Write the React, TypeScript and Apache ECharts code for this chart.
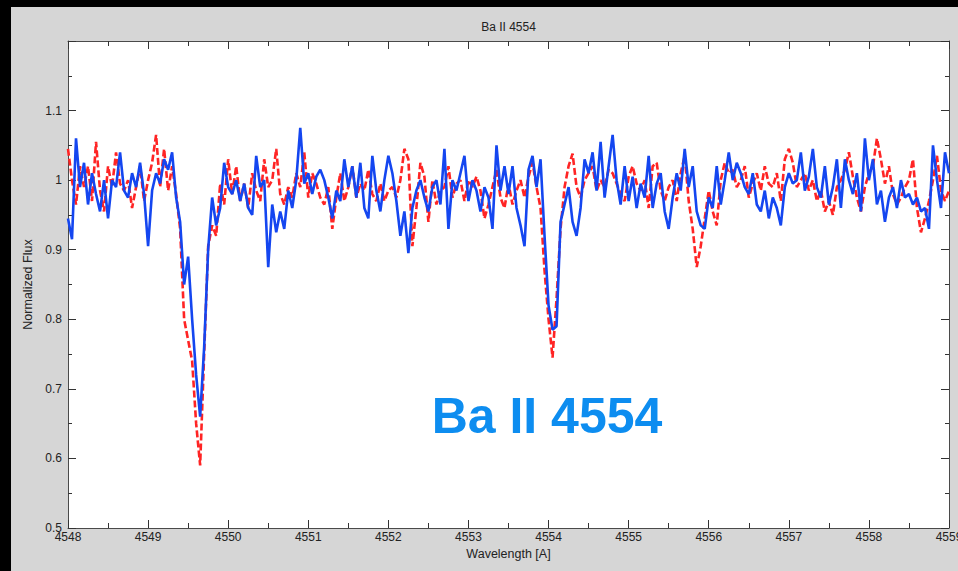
import React, { useEffect, useRef } from "react";
import * as echarts from "echarts";

// Sampling grid of the spectra (Angstrom)
const START_WL = 4548;
const STEP_WL = 0.05;

// Normalized flux, solid blue spectrum
const BLUE_FLUX = [
  0.945, 0.915, 1.06, 0.99, 1.025, 0.965, 1.01, 0.98, 0.955, 1.0,
  0.945, 1.0, 0.99, 1.04, 0.985, 0.975, 1.01, 0.99, 1.025, 0.98,
  0.905, 0.985, 1.01, 0.995, 1.03, 1.015, 1.04, 0.975, 0.94, 0.85,
  0.89, 0.8, 0.72, 0.66, 0.76, 0.9, 0.975, 0.935, 0.96, 1.025,
  0.99, 0.98, 1.0, 0.97, 0.995, 0.96, 0.95, 1.035, 0.99, 1.0,
  0.875, 0.965, 0.925, 0.955, 0.93, 0.985, 0.96, 1.0, 1.075, 0.995,
  1.01, 0.98, 1.005, 1.015, 1.0, 0.975, 0.945, 0.985, 0.97, 1.03,
  0.99, 1.02, 0.975, 1.025, 0.96, 0.945, 1.035, 0.985, 0.955, 1.0,
  1.035, 1.01, 0.97, 0.92, 0.955, 0.895, 0.96, 0.985, 1.0, 0.975,
  0.955, 0.99, 1.0, 0.965, 1.045, 0.93, 1.0, 0.985, 1.01, 1.035,
  0.97, 1.0, 0.985, 0.955, 0.99, 0.975, 0.93, 1.05, 0.985, 1.02,
  0.98, 1.02, 0.96, 0.935, 0.905, 1.015, 1.035, 0.99, 1.03, 0.92,
  0.82, 0.785, 0.79, 0.94, 0.965, 0.99, 0.94, 0.92, 0.96, 1.03,
  1.01, 1.04, 0.985, 1.055, 0.975, 1.02, 1.065, 1.0, 0.965, 1.02,
  0.97, 1.005, 0.96, 0.995, 0.975, 1.035, 0.96, 0.995, 1.01, 0.955,
  0.93, 0.975, 1.01, 0.985, 1.045, 0.99, 1.02, 0.955, 0.935, 0.93,
  0.975, 0.96, 1.02, 0.965, 1.0, 1.04, 1.0, 1.025, 1.01, 0.99,
  0.98, 1.01, 0.965, 0.955, 0.985, 0.945, 0.975, 0.96, 0.935, 0.99,
  1.01, 0.995, 1.0, 1.04, 0.985, 1.005, 1.045, 0.99, 0.975, 1.02,
  0.965, 0.99, 1.03, 0.96, 1.03, 1.0, 0.98, 1.01, 0.955, 1.06,
  1.0, 1.03, 0.965, 0.985, 0.94, 0.975, 0.99, 0.96, 1.0, 0.975,
  0.98, 0.965, 0.975, 0.955, 0.96, 0.93, 1.05, 1.0, 0.96, 1.04, 1.01,
];

// Normalized flux, dashed red spectrum
const RED_FLUX = [
  1.045, 1.0, 0.965, 1.02, 0.99, 1.02, 0.97, 1.055, 0.985, 0.955,
  1.02, 0.99, 1.04, 0.995, 0.985, 1.0, 0.96, 0.99, 1.02, 0.97,
  1.0, 1.025, 1.065, 0.99, 1.045, 0.985, 1.02, 0.98, 0.93, 0.8,
  0.77, 0.74, 0.65, 0.59, 0.75, 0.905, 0.935, 0.92, 0.995, 0.965,
  1.03, 0.98, 1.02, 0.97, 0.995, 0.96, 1.01, 0.985, 0.97, 1.03,
  0.99, 1.0, 1.045, 0.98, 0.965, 0.99, 0.975, 1.01, 0.99, 1.04,
  0.975, 1.01, 0.995, 0.975, 0.965, 0.99, 0.93, 0.975, 1.01, 0.97,
  0.99, 1.02, 0.975, 0.995, 0.985, 1.015, 0.98, 0.97, 0.995, 0.97,
  0.985, 0.99, 0.975, 1.0, 1.045, 1.03, 0.905, 0.96, 1.025, 1.005,
  0.94, 1.0, 0.965, 0.985, 0.99, 1.02, 0.975, 0.995, 1.0, 0.97,
  1.0, 0.99, 1.005, 0.985, 0.945, 0.965, 0.99, 1.015, 0.975, 0.96,
  0.995, 0.965, 0.985, 1.0, 0.975, 1.005, 1.025, 0.99, 0.96, 0.87,
  0.8, 0.745, 0.83, 0.93, 0.99, 1.02, 1.038, 0.99, 0.975, 1.0,
  1.01, 1.02, 0.985, 1.0, 0.99, 1.015, 1.01, 0.995, 0.98, 0.97,
  1.005, 1.02, 0.995, 0.985, 1.0, 0.96, 1.02, 1.025, 0.985, 0.97,
  0.99, 1.0, 0.97, 1.01, 1.035, 0.97, 0.93, 0.875, 0.905, 0.945,
  0.985, 0.955, 0.935, 1.0, 1.025, 1.01, 1.015, 0.99, 1.0, 1.02,
  0.975, 0.995, 1.01, 0.985, 1.02, 0.995, 0.99, 1.01, 0.97, 1.03,
  1.045, 1.025, 0.99, 1.0, 1.01, 0.985, 1.0, 0.97, 0.985, 0.955,
  0.97, 0.95, 0.99, 1.0, 1.015, 1.04, 1.005, 0.975, 0.955, 0.99,
  1.01, 1.02, 1.06, 1.03, 0.995, 1.02, 0.98, 0.965, 0.975, 0.99,
  1.0, 1.03, 0.96, 0.925, 0.945, 0.97, 1.0, 1.035, 0.985, 0.97, 0.985,
];

const X_MIN = 4548;
const X_MAX = 4559;
const Y_MIN = 0.5;
const Y_MAX = 1.2;

const TITLE = "Ba II 4554";
const BIG_LABEL = "Ba II 4554";
const X_NAME = "Wavelength [A]";
const Y_NAME = "Normalized Flux";

const FONT = "'Liberation Sans', Arial, Helvetica, sans-serif";

function toPairs(vals: number[]) {
  return vals.map((v, i) => [+(START_WL + i * STEP_WL).toFixed(2), v]);
}

export default function App() {
  const ref = useRef<HTMLDivElement>(null);

  useEffect(() => {
    if (!ref.current) return;
    const chart = echarts.init(ref.current, null, { renderer: "svg" });

    const axisLine = { show: true, lineStyle: { color: "#4a4a4a", width: 1 } };
    const tickStyle = { color: "#333", width: 1 };

    const xBase = {
      type: "value",
      min: X_MIN,
      max: X_MAX,
      interval: 1,
      axisLine,
      axisTick: { show: true, inside: true, length: 8, lineStyle: tickStyle },
      minorTick: { show: true, splitNumber: 2, length: 5, lineStyle: tickStyle },
      splitLine: { show: false },
      minorSplitLine: { show: false },
    };
    const yBase = {
      type: "value",
      min: Y_MIN,
      max: Y_MAX,
      interval: 0.1,
      axisLine,
      axisTick: { show: true, inside: true, length: 8, lineStyle: tickStyle },
      minorTick: { show: true, splitNumber: 2, length: 4, lineStyle: tickStyle },
      splitLine: { show: false },
      minorSplitLine: { show: false },
    };

    chart.setOption({
      animation: false,
      backgroundColor: "#d6d6d6",
      grid: {
        left: 57,
        top: 34,
        right: 9,
        bottom: 43,
        show: true,
        backgroundColor: "#ffffff",
        borderWidth: 0,
        containLabel: false,
        outerBoundsMode: "none",
      },
      xAxis: [
        {
          ...xBase,
          position: "bottom",
          axisLabel: {
            show: true,
            color: "#222",
            fontSize: 12,
            fontFamily: FONT,
            margin: 3,
            formatter: (v: number) => String(v),
          },
          name: X_NAME,
          nameLocation: "middle",
          nameGap: 19,
          nameTextStyle: { color: "#222", fontSize: 12.5, fontFamily: FONT },
        },
        {
          ...xBase,
          position: "top",
          axisLabel: { show: false },
        },
      ],
      yAxis: [
        {
          ...yBase,
          position: "left",
          axisLabel: {
            show: true,
            color: "#222",
            fontSize: 12,
            fontFamily: FONT,
            margin: 6,
            formatter: (v: number) => (v > 1.15 ? "" : String(Math.round(v * 10) / 10)),
          },
          name: Y_NAME,
          nameLocation: "middle",
          nameGap: 27,
          nameRotate: 90,
          nameTextStyle: { color: "#222", fontSize: 12.5, fontFamily: FONT },
        },
        {
          ...yBase,
          position: "right",
          axisLabel: { show: false },
        },
      ],
      graphic: [
        {
          type: "text",
          x: 497.5,
          y: 20,
          style: {
            text: TITLE,
            fill: "#222",
            font: `12px ${FONT}`,
            textAlign: "center",
            textVerticalAlign: "middle",
          },
          z: 10,
        },
        {
          type: "text",
          x: 536,
          y: 409,
          style: {
            text: BIG_LABEL,
            fill: "#0d8df0",
            font: `bold 50px ${FONT}`,
            textAlign: "center",
            textVerticalAlign: "middle",
          },
          z: 10,
        },
      ],
      series: [
        {
          type: "line",
          name: "red",
          xAxisIndex: 0,
          yAxisIndex: 0,
          data: toPairs(RED_FLUX),
          showSymbol: false,
          symbol: "none",
          clip: true,
          lineStyle: { color: "#ff2424", width: 2.6, type: [7, 3] },
          z: 2,
        },
        {
          type: "line",
          name: "blue",
          xAxisIndex: 0,
          yAxisIndex: 0,
          data: toPairs(BLUE_FLUX),
          showSymbol: false,
          symbol: "none",
          clip: true,
          lineStyle: { color: "#1446f0", width: 2.6 },
          z: 3,
        },
      ],
    });

    return () => chart.dispose();
  }, []);

  return (
    <div
      style={{
        position: "absolute",
        left: 0,
        top: 0,
        width: 958,
        height: 571,
        background: "#000",
      }}
    >
      <div
        ref={ref}
        style={{ position: "absolute", left: 11, top: 7, width: 947, height: 564 }}
      />
    </div>
  );
}
